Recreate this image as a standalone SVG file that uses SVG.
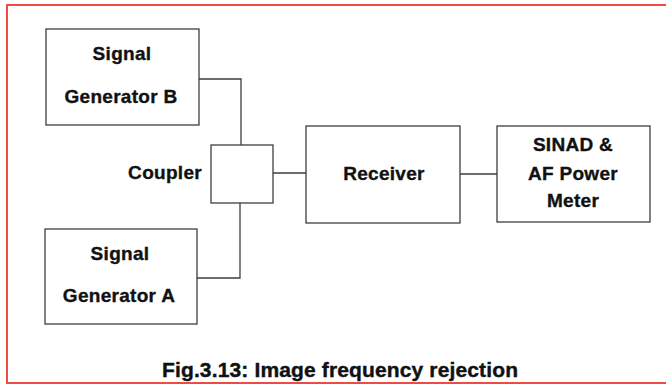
<svg xmlns="http://www.w3.org/2000/svg" width="666" height="387" viewBox="0 0 666 387">
<style>
.box{fill:#fff;stroke:#3a3f3c;stroke-width:1.3}
.t{font-family:"Liberation Sans",Arial,sans-serif;font-weight:bold;font-size:19px;fill:#111;stroke:#111;stroke-width:0.35;text-anchor:middle;letter-spacing:0.3px}
.w{fill:none;stroke:#3a3f3c;stroke-width:1.3}
</style>
<rect x="0" y="0" width="666" height="387" fill="#fff"/>
<rect x="7" y="5" width="665" height="378" fill="none" stroke="#ef4b45" stroke-width="2"/>
<g id="connectors">
<polyline class="w" points="199,79 241,79 241,145"/>
<polyline class="w" points="197,278 240,278 240,203"/>
<line class="w" x1="273" y1="173" x2="306" y2="173"/>
<line class="w" x1="460" y1="174" x2="497" y2="174"/>
</g>
<g id="sigB">
<rect class="box" x="46" y="29" width="153" height="96"/>
<text class="t" x="122" y="60">Signal</text>
<text class="t" x="121" y="103">Generator B</text>
</g>
<g id="coupler">
<rect class="box" x="211" y="145" width="62" height="58"/>
<text class="t" x="202" y="179" style="text-anchor:end">Coupler</text>
</g>
<g id="receiver">
<rect class="box" x="306" y="126" width="154" height="97"/>
<text class="t" x="384" y="180">Receiver</text>
</g>
<g id="sinad">
<rect class="box" x="497" y="126" width="153" height="96"/>
<text class="t" x="573" y="151">SINAD &amp;</text>
<text class="t" x="573" y="180">AF Power</text>
<text class="t" x="573" y="207">Meter</text>
</g>
<g id="sigA">
<rect class="box" x="45" y="229" width="152" height="95"/>
<text class="t" x="120" y="260">Signal</text>
<text class="t" x="119" y="302">Generator A</text>
</g>
<text x="162" y="377" textLength="356" lengthAdjust="spacing" style="font-family:'Liberation Sans',Arial,sans-serif;font-weight:bold;font-size:21px;fill:#111;stroke:#111;stroke-width:0.4">Fig.3.13: Image frequency rejection</text>
</svg>
